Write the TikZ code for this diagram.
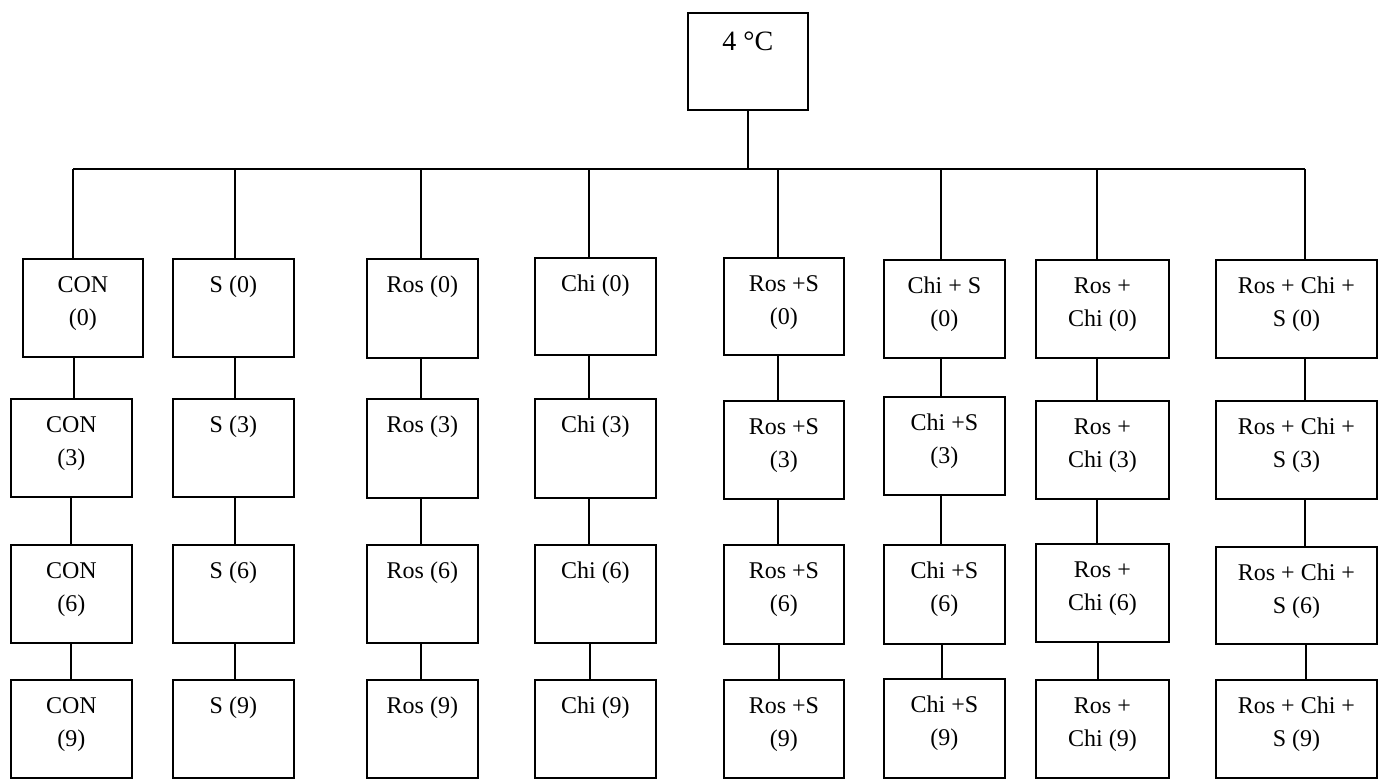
\documentclass[tikz,border=0pt]{standalone}
\usepackage{fontspec}
\setmainfont{Liberation Serif}
\tikzset{
  box/.style={draw, line width=1.8pt, inner sep=0pt, anchor=north west},
  lbl/.style={inner sep=0pt, anchor=north, align=center, font=\fontsize{24}{33}\selectfont},
  link/.style={line width=1.8pt}
}
\newcommand\mkbox[6]{%
  \node[box, minimum width={(#4-#2)*1pt}, minimum height={(#5-#3)*1pt}] (#1) at (#2,#3) {};
  \node[lbl] (#1t) at ([yshift=-11pt]#1.north) {\strut #6};}
\newcommand\vlink[3]{%
  \coordinate (kx) at (#3,0);
  \draw[link] (#1.south -| kx) -- (#2.north -| kx);}
\newcommand\drop[2]{%
  \coordinate (kx) at (#2,0);
  \draw[link] (kx |- busL) -- (#1.north -| kx);}
\begin{document}
\begin{tikzpicture}[x=1pt,y=-1pt]
\useasboundingbox (0,0) rectangle (1378,779);
% top box
\node[box, minimum width=120pt, minimum height=97pt] (top) at (687,12) {};
\node[inner sep=0pt, anchor=base, font=\fontsize{28}{33}\selectfont] (topt) at ([yshift=-38pt]top.north) {4 °C};
% column 1
\mkbox{a0}{22}{258}{142}{356}{CON\\(0)}
\mkbox{a1}{10}{398}{131}{496}{CON\\(3)}
\mkbox{a2}{10}{544}{131}{642}{CON\\(6)}
\mkbox{a3}{10}{679}{131}{777}{CON\\(9)}
% column 2
\mkbox{b0}{172}{258}{293}{356}{S (0)}
\mkbox{b1}{172}{398}{293}{496}{S (3)}
\mkbox{b2}{172}{544}{293}{642}{S (6)}
\mkbox{b3}{172}{679}{293}{777}{S (9)}
% column 3
\mkbox{c0}{366}{258}{477}{357}{Ros (0)}
\mkbox{c1}{366}{398}{477}{497}{Ros (3)}
\mkbox{c2}{366}{544}{477}{642}{Ros (6)}
\mkbox{c3}{366}{679}{477}{777}{Ros (9)}
% column 4
\mkbox{d0}{534}{257}{655}{354}{Chi (0)}
\mkbox{d1}{534}{398}{655}{497}{Chi (3)}
\mkbox{d2}{534}{544}{655}{642}{Chi (6)}
\mkbox{d3}{534}{679}{655}{777}{Chi (9)}
% column 5
\mkbox{e0}{723}{257}{843}{354}{Ros +S\\(0)}
\mkbox{e1}{723}{400}{843}{498}{Ros +S\\(3)}
\mkbox{e2}{723}{544}{843}{643}{Ros +S\\(6)}
\mkbox{e3}{723}{679}{843}{777}{Ros +S\\(9)}
% column 6
\mkbox{f0}{883}{259}{1004}{357}{Chi + S\\(0)}
\mkbox{f1}{883}{396}{1004}{494}{Chi +S\\(3)}
\mkbox{f2}{883}{544}{1004}{643}{Chi +S\\(6)}
\mkbox{f3}{883}{678}{1004}{777}{Chi +S\\(9)}
% column 7
\mkbox{g0}{1035}{259}{1168}{357}{Ros +\\Chi (0)}
\mkbox{g1}{1035}{400}{1168}{498}{Ros +\\Chi (3)}
\mkbox{g2}{1035}{543}{1168}{641}{Ros +\\Chi (6)}
\mkbox{g3}{1035}{679}{1168}{777}{Ros +\\Chi (9)}
% column 8
\mkbox{h0}{1215}{259}{1376}{357}{Ros + Chi +\\S (0)}
\mkbox{h1}{1215}{400}{1376}{498}{Ros + Chi +\\S (3)}
\mkbox{h2}{1215}{546}{1376}{643}{Ros + Chi +\\S (6)}
\mkbox{h3}{1215}{679}{1376}{777}{Ros + Chi +\\S (9)}
% bus
\coordinate (busL) at (73,169);
\coordinate (busR) at (1305,169);
\draw[link] (busL) -- (busR);
\draw[link] (top.south) -- (top.south |- busL);
\drop{a0}{73}\drop{b0}{235}\drop{c0}{421}\drop{d0}{589}
\drop{e0}{778}\drop{f0}{941}\drop{g0}{1097}\drop{h0}{1305}
% vertical links
\vlink{a0}{a1}{74}\vlink{a1}{a2}{71}\vlink{a2}{a3}{71}
\vlink{b0}{b1}{235}\vlink{b1}{b2}{235}\vlink{b2}{b3}{235}
\vlink{c0}{c1}{421}\vlink{c1}{c2}{421}\vlink{c2}{c3}{421}
\vlink{d0}{d1}{589}\vlink{d1}{d2}{589}\vlink{d2}{d3}{590}
\vlink{e0}{e1}{778}\vlink{e1}{e2}{778}\vlink{e2}{e3}{779}
\vlink{f0}{f1}{941}\vlink{f1}{f2}{941}\vlink{f2}{f3}{942}
\vlink{g0}{g1}{1097}\vlink{g1}{g2}{1097}\vlink{g2}{g3}{1098}
\vlink{h0}{h1}{1305}\vlink{h1}{h2}{1305}\vlink{h2}{h3}{1306}
\end{tikzpicture}
\end{document}
